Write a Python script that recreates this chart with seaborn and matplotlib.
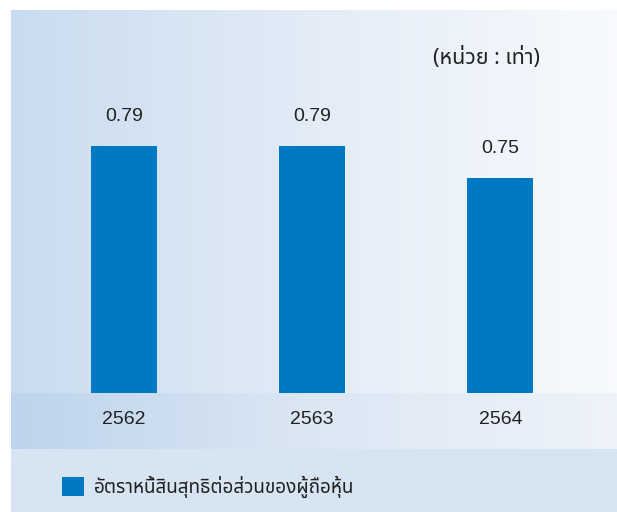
import numpy as np
import pandas as pd
import matplotlib
matplotlib.use("Agg")
import matplotlib.pyplot as plt
from matplotlib.colors import LinearSegmentedColormap
import seaborn as sns

# data
years = ["2562", "2563", "2564"]
ratio = [0.79, 0.79, 0.75]
series_name = "อัตราหนี้สินสุทธิต่อส่วนของผู้ถือหุ้น"
unit_label = "(หน่วย : เท่า)"

df = pd.DataFrame({"year": years, "ratio": ratio})

BAR = "#0079C2"
TXT = "#222222"
thai = ["Noto Sans Thai", "DejaVu Sans"]
latin = ["Liberation Sans", "DejaVu Sans"]

sns.set_theme(style="white")

W, H = 617, 512
fig = plt.figure(figsize=(W / 100, H / 100), dpi=100)
fig.patch.set_facecolor("white")

# background bands (gradient panel)
bg = fig.add_axes([11 / W, 0, 606 / W, 502 / H])
bg.set_xlim(0, 1)
bg.set_ylim(0, 502)
bg.axis("off")
grad = np.linspace(0, 1, 256).reshape(1, -1)
top_cmap = LinearSegmentedColormap.from_list("top", ["#C9DCEF", "#E3ECF7", "#F8FAFD"])
mid_cmap = LinearSegmentedColormap.from_list("mid", ["#BDD4EC", "#DCE7F4", "#EEF3FA"])
bot_cmap = LinearSegmentedColormap.from_list("bot", ["#D8E5F3", "#D6E4F2"])
bg.imshow(grad, cmap=top_cmap, aspect="auto", extent=(0, 1, 119, 502))
bg.imshow(grad, cmap=mid_cmap, aspect="auto", extent=(0, 1, 63, 119))
bg.imshow(grad, cmap=bot_cmap, aspect="auto", extent=(0, 1, 0, 63))

# main plot area
ax = fig.add_axes([11 / W, (H - 393) / H, 606 / W, 383 / H])
ax.patch.set_alpha(0)
sns.barplot(data=df, x="year", y="ratio", color=BAR, saturation=1,
            width=0.35, linewidth=0, label=series_name, ax=ax)
ax.set_xlim(-0.6, 2.62)
ax.set_ylim(0.481, 0.96)
ax.set_xlabel("")
ax.set_ylabel("")
ax.set_yticks([])
ax.set_xticks([])
sns.despine(ax=ax, left=True, bottom=True)

for i, v in enumerate(ratio):
    ax.annotate(f"{v:.2f}", (i, v), xytext=(0, 29), textcoords="offset pixels",
                ha="center", va="center", fontsize=14, color=TXT, family=latin)
    # year labels sit in the band below the axes
    ax.annotate(years[i], (i, 0), xycoords=("data", "axes fraction"),
                xytext=(0, -26), textcoords="offset pixels",
                ha="center", va="center", fontsize=14, color=TXT, family=latin)

fig.text(487 / W, 1 - 58 / H, unit_label, ha="center", va="center",
         fontsize=15.5, color=TXT, family=thai)

leg = ax.legend(loc="center left", bbox_to_anchor=(62 / W, 1 - 487 / H),
                bbox_transform=fig.transFigure, frameon=False, borderpad=0,
                borderaxespad=0, handlelength=1.15, handleheight=1.15,
                handletextpad=0.55, prop={"family": thai, "size": 13.6})
for t in leg.get_texts():
    t.set_color(TXT)

fig.savefig("out.png", dpi=100)
